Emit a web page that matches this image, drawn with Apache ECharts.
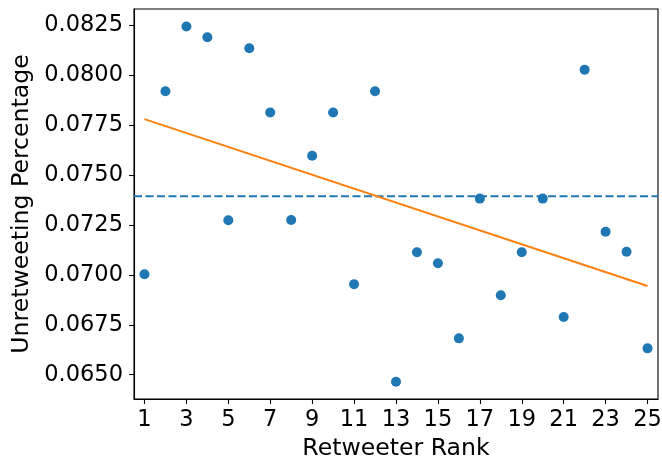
<!DOCTYPE html>
<html>
<head>
<meta charset="utf-8">
<script src="https://cdn.jsdelivr.net/npm/echarts@6/dist/echarts.min.js"></script>
<style>
  html, body { margin: 0; padding: 0; background: #fff; }
  #chart { width: 662px; height: 461px; }
</style>
</head>
<body>
<div id="chart"></div>
<script>
// retweeter rank (x) and unretweeting percentage (y)
const ranks = [1, 2, 3, 4, 5, 6, 7, 8, 9, 10, 11, 12, 13, 14, 15, 16, 17, 18, 19, 20, 21, 22, 23, 24, 25]
const percents = [0.07003, 0.07920, 0.08244, 0.08190, 0.07274, 0.08135, 0.07813, 0.07275, 0.07597, 0.07813,
  0.06953, 0.07920, 0.06465, 0.07113, 0.07058, 0.06682, 0.07382, 0.06898, 0.07113, 0.07382,
  0.06789, 0.08028, 0.07216, 0.07116, 0.06632]
const meanValue = 0.07394          // dashed line, spans whole x range
const meanX = [0.5, 25.5]
const fitX = [1, 25]               // regression line ends
const fitY = [0.07780, 0.06944]
const xTicks = [1, 3, 5, 7, 9, 11, 13, 15, 17, 19, 21, 23, 25]
const yTicks = [0.0650, 0.0675, 0.0700, 0.0725, 0.0750, 0.0775, 0.0800, 0.0825]

const font = 'DejaVu Sans'
const fs = 23.6      // axis names
const tfs = 22.5     // tick labels
const chart = echarts.init(document.getElementById('chart'))
chart.setOption({
  animation: false,
  grid: {
    left: 134, right: 4, top: 9, bottom: 62, containLabel: false, outerBoundsMode: 'none',
    show: true, borderColor: '#000', borderWidth: 1.1
  },
  xAxis: {
    type: 'value', min: 0.5, max: 25.5,
    name: 'Retweeter Rank', nameLocation: 'middle', nameGap: 36,
    nameTextStyle: { fontFamily: font, fontSize: fs, color: '#000' },
    axisLine: { show: true, onZero: false, lineStyle: { color: '#000', width: 1.1 } },
    axisTick: { show: true, length: 5, customValues: xTicks, lineStyle: { color: '#000', width: 1.1 } },
    axisLabel: { customValues: xTicks, fontFamily: font, fontSize: tfs, color: '#000', margin: 10 },
    splitLine: { show: false }
  },
  yAxis: {
    type: 'value', min: 0.063783, max: 0.083317,
    name: 'Unretweeting Percentage', nameLocation: 'middle', nameGap: 89,
    nameTextStyle: { fontFamily: font, fontSize: fs, color: '#000' },
    axisLine: { show: true, onZero: false, lineStyle: { color: '#000', width: 1.1 } },
    axisTick: { show: true, length: 5, customValues: yTicks, lineStyle: { color: '#000', width: 1.1 } },
    axisLabel: {
      customValues: yTicks, fontFamily: font, fontSize: tfs, color: '#000', margin: 11,
      formatter: v => v.toFixed(4)
    },
    splitLine: { show: false }
  },
  series: [
    {
      type: 'scatter', symbolSize: 10,
      itemStyle: { color: '#1f77b4', opacity: 1 },
      data: ranks.map((r, i) => [r, percents[i]]),
      z: 3
    },
    {
      type: 'line', symbol: 'none',
      lineStyle: { color: '#ff7f0e', width: 2 },
      data: fitX.map((x, i) => [x, fitY[i]]),
      z: 2
    },
    {
      type: 'line', symbol: 'none',
      lineStyle: { color: '#1f77b4', width: 2, type: [8, 3.5] },
      data: meanX.map(x => [x, meanValue]),
      z: 1
    }
  ]
})
</script>
</body>
</html>
